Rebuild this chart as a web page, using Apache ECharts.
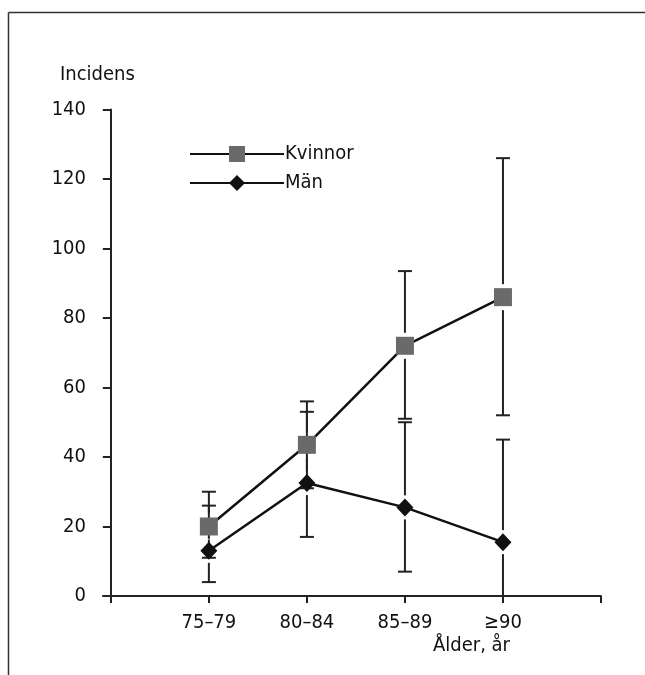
<!DOCTYPE html>
<html><head><meta charset="utf-8">
<script src="https://cdn.jsdelivr.net/npm/echarts@6/dist/echarts.min.js"></script>
<style>html,body{margin:0;padding:0;background:#fff}#c{width:645px;height:675px}</style>
</head><body><div id="c"></div>
<script>
const categories = ['75–79', '80–84', '85–89', '≥90'];
const xPos = [1, 2, 3, 4];
const kvinnor = [20, 43.5, 72, 86];
const kvinnorLow = [11, 31, 51, 52];
const kvinnorHigh = [30, 56, 93.5, 126];
const man = [13, 32.5, 25.5, 15.5];
const manLow = [4, 17, 7, 0];
const manHigh = [26, 53, 50, 45];
const yTicks = [0, 20, 40, 60, 80, 100, 120, 140];
const xTicks = [0, 1, 2, 3, 4, 5];

const FONT = "'Liberation Sans Narrow','DejaVu Sans Condensed','Roboto Condensed',sans-serif";
const chart = echarts.init(document.getElementById('c'));

function errSeries(name, mid, low, high, gap) {
  return {
    type: 'custom', name: name + '_err', silent: true, z: 1,
    data: xPos.map((x, i) => [x, low[i], high[i], mid[i]]),
    renderItem: function (params, api) {
      const x = api.value(0);
      const pl = api.coord([x, api.value(1)]);
      const ph = api.coord([x, api.value(2)]);
      const pm = api.coord([x, api.value(3)]);
      const style = { stroke: '#222', lineWidth: 2 };
      const ch = [];
      const hw = 7;
      if (pm[1] - gap > ph[1]) ch.push({ type: 'line', shape: { x1: pm[0], y1: pm[1] - gap, x2: ph[0], y2: ph[1] }, style });
      if (pl[1] > pm[1] + gap) ch.push({ type: 'line', shape: { x1: pm[0], y1: pm[1] + gap, x2: pl[0], y2: pl[1] }, style });
      ch.push({ type: 'line', shape: { x1: ph[0] - hw, y1: ph[1], x2: ph[0] + hw, y2: ph[1] }, style });
      ch.push({ type: 'line', shape: { x1: pl[0] - hw, y1: pl[1], x2: pl[0] + hw, y2: pl[1] }, style });
      return { type: 'group', children: ch };
    }
  };
}

chart.setOption({
  animation: false,
  backgroundColor: '#fff',
  textStyle: { fontFamily: FONT },
  grid: { left: 103, top: 109.5, width: 498, height: 491.7, containLabel: false },
  legend: {
    orient: 'vertical', left: 189, top: 144, itemGap: 9, padding: 0,
    itemWidth: 94, itemHeight: 20,
    textStyle: { fontFamily: FONT, fontSize: 20, color: '#111', padding: [0, 0, 0, -4] },
    data: ['Kvinnor', 'Män']
  },
  xAxis: {
    type: 'value', min: -0.08, max: 5,
    splitLine: { show: false },
    axisLine: { onZero: true, lineStyle: { color: '#222', width: 2 } },
    axisTick: { show: true, length: 7, inside: false, customValues: xTicks, lineStyle: { color: '#222', width: 2 } },
    axisLabel: {
      customValues: xPos, margin: 12, fontSize: 20, color: '#111', fontFamily: FONT,
      formatter: v => categories[xPos.indexOf(v)] || ''
    }
  },
  yAxis: {
    type: 'value', min: -1.5, max: 140,
    splitLine: { show: false },
    axisLine: { onZero: true, lineStyle: { color: '#222', width: 2 } },
    axisTick: { show: true, length: 8, customValues: yTicks, lineStyle: { color: '#222', width: 2 } },
    axisLabel: { customValues: yTicks, margin: 17, fontSize: 20, color: '#111', fontFamily: FONT }
  },
  graphic: [
    { type: 'line', shape: { x1: 8.5, y1: 12.5, x2: 645, y2: 12.5 }, style: { stroke: '#333', lineWidth: 1.5 } },
    { type: 'line', shape: { x1: 8.5, y1: 12.5, x2: 8.5, y2: 675 }, style: { stroke: '#333', lineWidth: 1.5 } },
    { type: 'text', left: 60, top: 65, style: { text: 'Incidens', font: '20px ' + FONT, fill: '#111' } },
    { type: 'text', right: 135, top: 636, style: { text: 'Ålder, år', font: '20px ' + FONT, fill: '#111' } }
  ],
  series: [
    errSeries('Kvinnor', kvinnor, kvinnorLow, kvinnorHigh, 13),
    errSeries('Män', man, manLow, manHigh, 12),
    {
      name: 'Kvinnor', type: 'line', z: 3,
      data: xPos.map((x, i) => [x, kvinnor[i]]),
      symbol: 'rect', symbolSize: 18,
      itemStyle: { color: '#6a6a6a' },
      lineStyle: { color: '#111', width: 2.5 }
    },
    {
      name: 'Män', type: 'line', z: 4,
      data: xPos.map((x, i) => [x, man[i]]),
      symbol: 'diamond', symbolSize: [17, 18],
      itemStyle: { color: '#111' },
      lineStyle: { color: '#111', width: 2.5 }
    }
  ]
});
</script></body></html>
